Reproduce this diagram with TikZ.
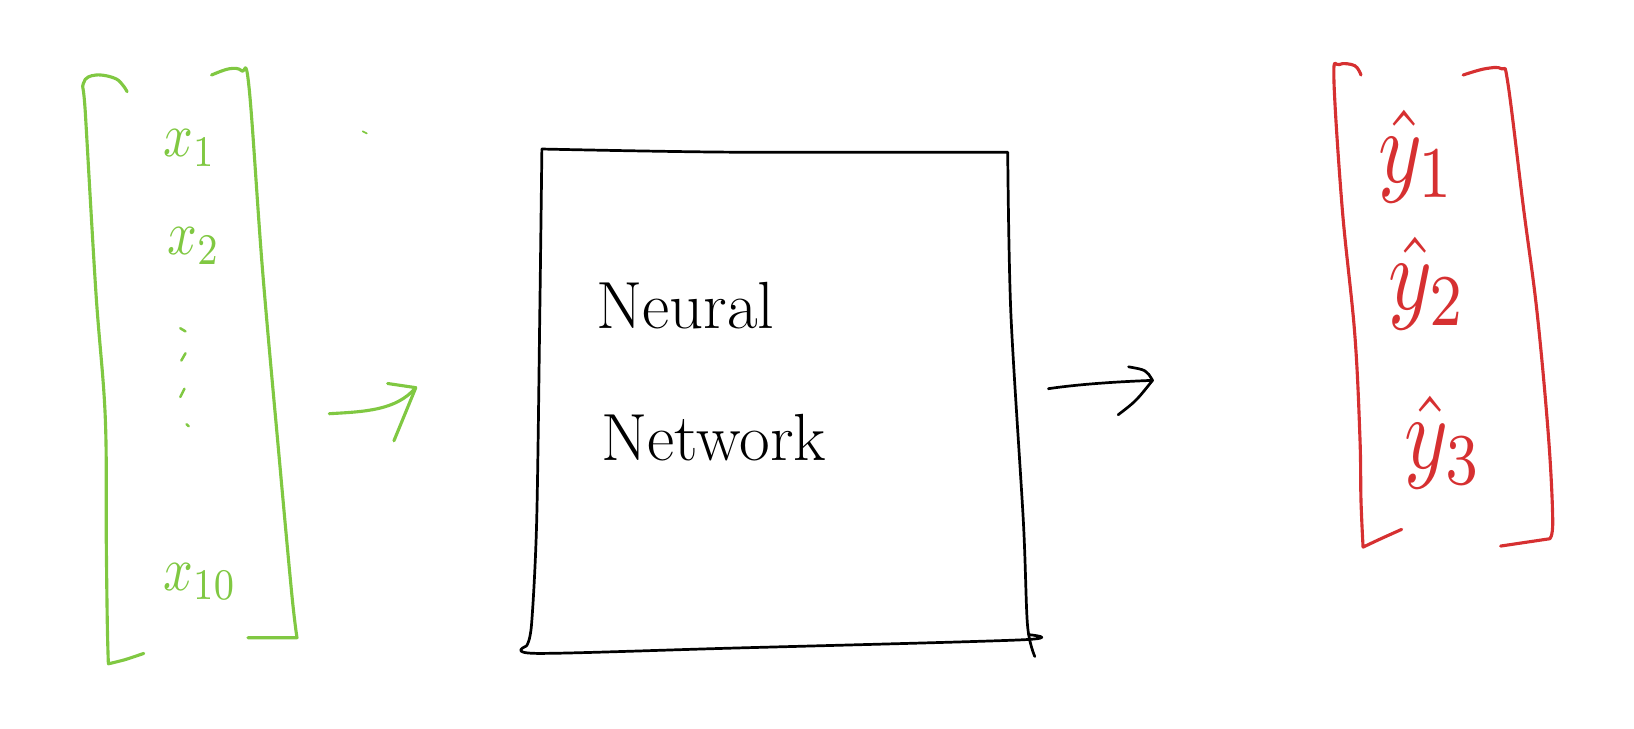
\documentclass[tikz,border=0pt]{standalone}
\usetikzlibrary{calc}
\definecolor{sketchgreen}{RGB}{128,200,66}
\definecolor{sketchred}{RGB}{214,48,49}
\newcommand{\bigmath}[3]{\scalebox{#1}[#2]{$#3$}}
\begin{document}
\begin{tikzpicture}[x=1pt,y=-1pt,
  pen/.style={line width=3pt,line cap=round,line join=round},
  gpen/.style={pen,draw=sketchgreen},
  rpen/.style={pen,draw=sketchred},
  kpen/.style={line width=2.6pt,line cap=round,line join=round,draw=black},
  glabel/.style={text=sketchgreen,inner sep=0pt},
  rlabel/.style={text=sketchred,inner sep=0pt},
  klabel/.style={text=black,font=\fontsize{64}{64}\selectfont,inner sep=0pt,anchor=west}]
\useasboundingbox (0,0) rectangle (1568,699);
% ---------- green input vector ----------
\draw[gpen] plot[smooth,tension=0.6] coordinates {(122,88) (112,76) (92,72) (80,80) (82,110) (92,280) (101,400) (102,520) (103,600) (104,637)} -- plot[smooth] coordinates {(104,637) (120,633) (138,627)};
\draw[gpen] plot[smooth,tension=0.6] coordinates {(203,72) (220,66) (232,68) (239,84) (252,260) (268,440) (280,570) (285,612)} -- (238,612);
\node[glabel] (x1) at (182,142) {\bigmath{5}{6}{x_1}};
\node[glabel] (x2) at (186,236) {\bigmath{5}{6}{x_2}};
\node[glabel] (x10) at (192,558) {\bigmath{5}{6}{x_{10}}};
% vertical dots
\draw[gpen,line width=2.4pt] (173,315) -- (178,318);
\draw[gpen,line width=2.4pt] (174,346) -- (178,339);
\draw[gpen,line width=2.4pt] (173,381) -- (177,373);
\draw[gpen,line width=2.4pt] (179,407) -- (181,409);
\draw[gpen,line width=1.6pt] (348,126) -- (352,128);
% green arrow
\coordinate (ga) at (316,397);
\coordinate (gb) at (399,372);
\draw[gpen] (ga) .. controls (350,395) and (380,394) .. (gb);
\draw[gpen] (372,368) -- (gb) -- (378,423);
% ---------- black box ----------
\node[draw=none,minimum width=460pt,minimum height=480pt,inner sep=0pt] (nn) at (745,385) {};
\draw[kpen] plot[smooth,tension=0.5] coordinates {(520,143) (700,146) (967,146)}
  -- plot[smooth,tension=0.5] coordinates {(967,146) (970,300) (982,500) (986,600) (993,630)};
\draw[kpen] (520,143) -- plot[smooth,tension=0.5] coordinates {(520,143) (518,300) (515,500) (510,600) (505,620)}
  -- plot[smooth,tension=0.5] coordinates {(505,620) (515,627) (700,622) (980,614) (987,609)};
\node[klabel] (t1) at (572,293) {Neural};
\node[klabel] (t2) at (577,420) {Network};
% black arrow
\coordinate (ka) at (1006,373);
\coordinate (kb) at (1106,365);
\draw[kpen] (ka) .. controls (1040,368) and (1080,366) .. (kb);
\draw[kpen] (1083,352) .. controls (1100,355) .. (kb) .. controls (1090,385) .. (1073,398);
% ---------- red output vector ----------
\draw[rpen] plot[smooth,tension=0.6] coordinates {(1306,72) (1300,63) (1285,62) (1280,75) (1288,200) (1300,320) (1305,420) (1306,480) (1308,525)} -- plot[smooth] coordinates {(1308,525) (1325,517) (1345,508)};
\draw[rpen] plot[smooth,tension=0.6] coordinates {(1404,72) (1425,66) (1441,66) (1447,80) (1462,200) (1475,300) (1486,420) (1490,500) (1487,517)} -- (1440,524);
\node[rlabel] (y1) at (1360,150) {\bigmath{8}{10}{\hat{y}_1}};
\node[rlabel] (y2) at (1370,272) {\bigmath{8}{10}{\hat{y}_2}};
\node[rlabel] (y3) at (1385,425) {\bigmath{8}{10}{\hat{y}_3}};
\end{tikzpicture}
\end{document}
